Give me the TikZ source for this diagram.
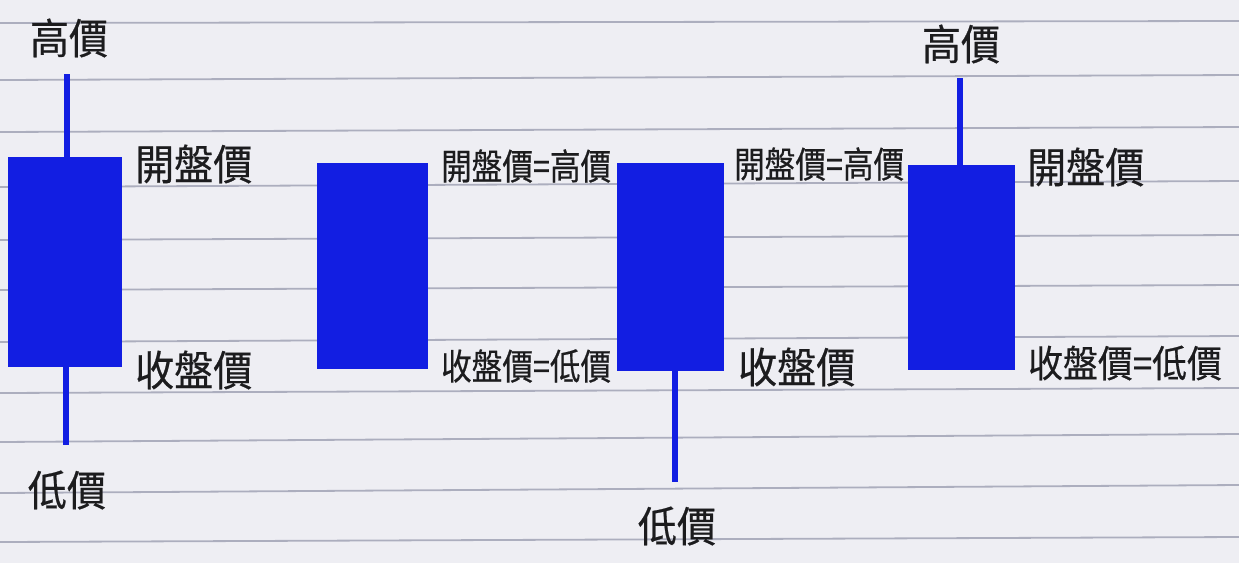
\documentclass[tikz,border=0pt]{standalone}
\usepackage{fontspec}
\newfontfamily\cjk[FakeStretch=0.93,FakeBold=0.5]{Noto Sans CJK TC}
\newfontfamily\cjknarrow[FakeStretch=0.85,FakeBold=0.5]{Noto Sans CJK TC}
\definecolor{paper}{RGB}{238,238,243}
\definecolor{rulecol}{RGB}{172,174,190}
\definecolor{candle}{RGB}{18,30,226}
\definecolor{inkcol}{RGB}{28,28,30}
\begin{document}
\begin{tikzpicture}[x=1pt,y=-1pt,
  body/.style={fill=candle, draw=none, inner sep=0pt, outer sep=0pt},
  wick/.style={draw=candle, line width=6.5pt, line cap=butt},
  big/.style={font=\cjk\fontsize{42}{42}\selectfont, text=inkcol, inner sep=0pt},
  small/.style={font=\cjknarrow\fontsize{36}{36}\selectfont, text=inkcol, inner sep=0pt},
  smallwide/.style={font=\cjk\fontsize{37.5}{37.5}\selectfont, text=inkcol, inner sep=0pt},
  paperline/.style={draw=rulecol, line width=1.8pt}]
\useasboundingbox (0,0) rectangle (1239,563);
\fill[paper] (0,0) rectangle (1239,563);
% ruled lines
\foreach \l/\r in {23/21, 80/75, 132/127, 187/181, 240/235, 290/285, 342/336, 393/388, 442/434, 493/485, 542/537}
  \draw[paperline] (0,\l) -- (1239,\r);
% candle bodies
\node[body, minimum width=114pt, minimum height=210pt] (b1) at (65,262) {};
\node[body, minimum width=111pt, minimum height=206pt] (b2) at (372.5,266) {};
\node[body, minimum width=107pt, minimum height=208pt] (b3) at (670.5,267) {};
\node[body, minimum width=107pt, minimum height=205pt] (b4) at (961.5,267.5) {};
% wick ends
\coordinate (h1) at (67,74);
\coordinate (l1) at (66,445);
\coordinate (l3) at (675,482);
\coordinate (h4) at (960,78);
\draw[wick] (h1) -- (h1 |- b1.north);
\draw[wick] (l1 |- b1.south) -- (l1);
\draw[wick] (l3 |- b3.south) -- (l3);
\draw[wick] (h4) -- (h4 |- b4.north);
% labels
\node[big] (t1h) at (69,38) {高價};
\node[big, anchor=west] (t1o) at (135,164) {開盤價};
\node[big, anchor=west] (t1c) at (135,370) {收盤價};
\node[big] (t1l) at (67,490) {低價};
\node[small, anchor=west] (t2o) at (441,166) {開盤價=高價};
\node[small, anchor=west] (t2c) at (441,366) {收盤價=低價};
\node[small, anchor=west] (t3o) at (734,164) {開盤價=高價};
\node[big, anchor=west] (t3c) at (738,367) {收盤價};
\node[big] (t3l) at (677,526) {低價};
\node[big] (t4h) at (961,44) {高價};
\node[big, anchor=west] (t4o) at (1027,167) {開盤價};
\node[smallwide, anchor=west] (t4c) at (1028,363) {收盤價=低價};
\end{tikzpicture}
\end{document}
